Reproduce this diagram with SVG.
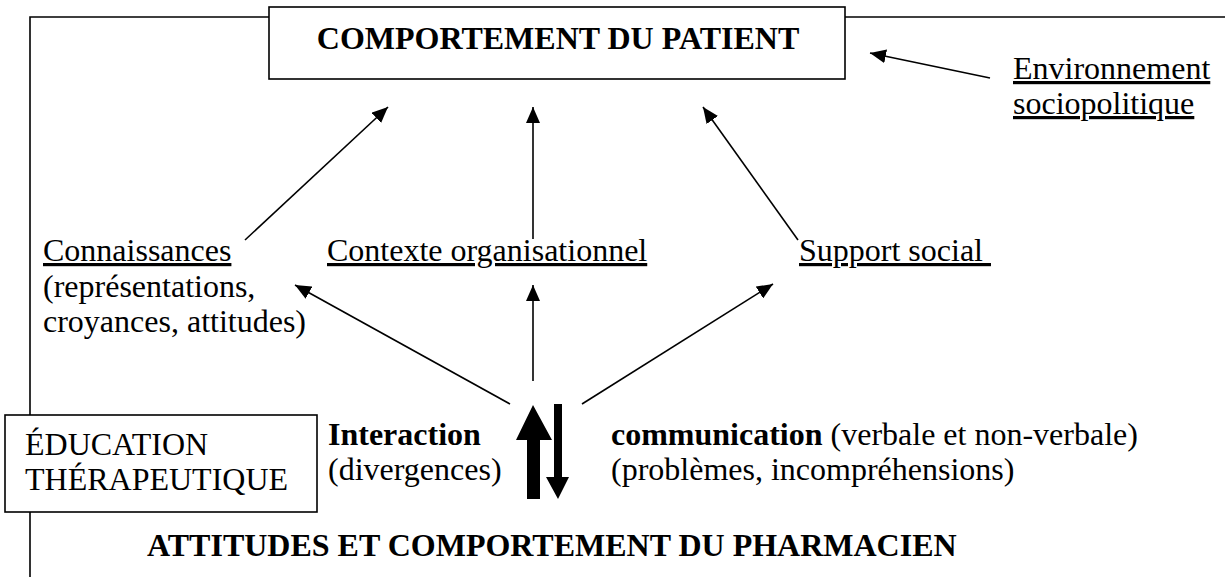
<svg xmlns="http://www.w3.org/2000/svg" width="1225" height="577" viewBox="0 0 1225 577">
<style>
text{font-family:"Liberation Serif","Times New Roman",serif;font-size:32px;fill:#000}
.b{font-weight:bold}
.u{text-decoration:underline}
.box{fill:#fff;stroke:#000;stroke-width:1.6}
.ln{stroke:#000;stroke-width:1.6;fill:none}
.arr{stroke:#000;stroke-width:1.6;fill:none;marker-end:url(#ah)}
</style>
<defs>
<marker id="ah" markerUnits="userSpaceOnUse" markerWidth="18" markerHeight="14" refX="16" refY="7" orient="auto">
<path d="M0,0 L16,7 L0,14 z" fill="#000"/>
</marker>
</defs>
<rect width="1225" height="577" fill="#fff"/>
<g id="frame">
<polyline class="ln" points="269,17 30,17 30,577"/>
<line class="ln" x1="845" y1="17" x2="1225" y2="17"/>
</g>
<g id="connectors">
<line class="arr" x1="990" y1="78" x2="870" y2="53"/>
<line class="arr" x1="245" y1="240" x2="388" y2="107"/>
<line class="arr" x1="533" y1="239" x2="533" y2="107"/>
<line class="arr" x1="798" y1="240" x2="703" y2="107"/>
<line class="arr" x1="510" y1="404" x2="295" y2="285"/>
<line class="arr" x1="533" y1="381" x2="533" y2="285"/>
<line class="arr" x1="582" y1="404" x2="773" y2="284"/>
<path d="M533,405 L552,440 L540,440 L540,499 L527,499 L527,440 L516,440 z" fill="#000"/>
<path d="M554,404 L562,404 L562,477 L569,477 L558,499 L546,477 L554,477 z" fill="#000"/>
</g>
<g id="patient">
<rect class="box" x="269" y="7" width="576" height="72"/>
<text class="b" x="558" y="49" text-anchor="middle">COMPORTEMENT DU PATIENT</text>
</g>
<g id="environnement">
<text x="1013" y="79"><tspan class="u">Environnement</tspan></text>
<text x="1013" y="114"><tspan class="u">sociopolitique</tspan></text>
</g>
<g id="connaissances">
<text x="43" y="261"><tspan class="u">Connaissances</tspan></text>
<text x="43" y="297">(représentations,</text>
<text x="43" y="332">croyances, attitudes)</text>
</g>
<g id="contexte">
<text x="327" y="261"><tspan class="u">Contexte organisationnel</tspan></text>
</g>
<g id="support">
<text x="799" y="261" xml:space="preserve"><tspan class="u">Support social </tspan></text>
</g>
<g id="education">
<rect class="box" x="5" y="415" width="312" height="97"/>
<text x="25" y="455">ÉDUCATION</text>
<text x="25" y="490">THÉRAPEUTIQUE</text>
</g>
<g id="interaction">
<text x="328" y="445" class="b">Interaction</text>
<text x="328" y="480">(divergences)</text>
</g>
<g id="communication">
<text x="611" y="445"><tspan class="b">communication</tspan> (verbale et non-verbale)</text>
<text x="611" y="480">(problèmes, incompréhensions)</text>
</g>
<g id="pharmacien">
<text class="b" x="147" y="556">ATTITUDES ET COMPORTEMENT DU PHARMACIEN</text>
</g>
</svg>
